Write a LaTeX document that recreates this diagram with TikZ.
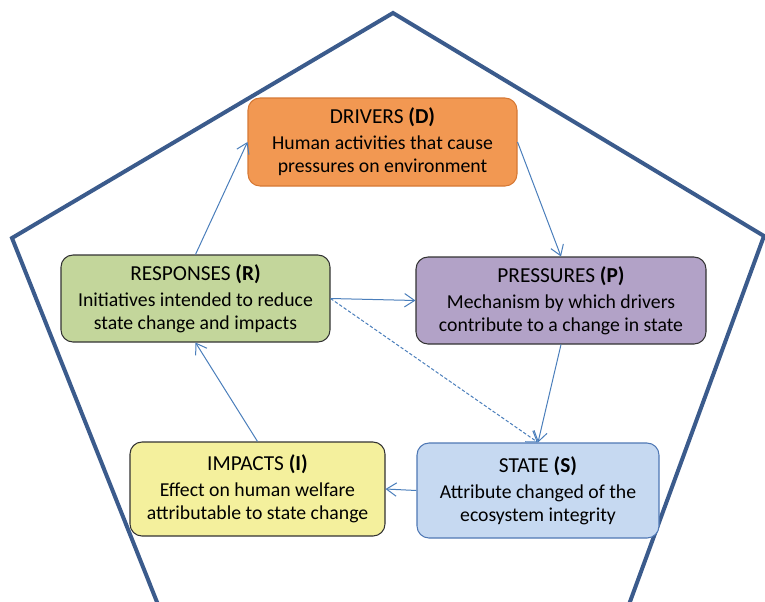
\documentclass[tikz,border=0pt]{standalone}
\usepackage{fontspec}
\setmainfont{Carlito}
\usetikzlibrary{arrows.meta}
\definecolor{penta}{RGB}{59,91,140}
\definecolor{flowblue}{RGB}{74,126,187}
\definecolor{dfill}{RGB}{242,152,82}
\definecolor{ddraw}{RGB}{214,120,52}
\definecolor{rfill}{RGB}{195,214,155}
\definecolor{pfill}{RGB}{178,162,199}
\definecolor{ifill}{RGB}{244,240,157}
\definecolor{sfill}{RGB}{198,217,241}
\definecolor{sdraw}{RGB}{79,120,180}
\newcommand{\boxtitle}[2]{{\fontsize{16}{19}\selectfont #1 \textbf{(#2)}}\\[2.5pt]}

\begin{document}
\begin{tikzpicture}[x=0.75pt, y=-0.75pt,
    dpsir/.style={draw=black!80, line width=0.8pt, rounded corners=9pt, align=center,
      inner sep=2pt, font=\fontsize{14.8}{17.25}\selectfont},
    flow/.style={draw=flowblue, line width=0.75pt, -{Straight Barb[length=7.5pt,width=10pt]}}]
    % frame of the picture
    \clip (0,0) rectangle (765,601);
    % Pentagon round the cycle
    \draw[penta, line width=3pt] (393,13) -- (764,236) -- (594,700) -- (196,700) -- (12,238) -- cycle;
    % Boxes of the cycle
    \node[dpsir, fill=dfill, draw=ddraw, minimum width=201.75pt, minimum height=66pt] (drivers) at (382.5,142)
      {\boxtitle{DRIVERS}{D}Human activities that cause\\pressures on environment};
    \node[dpsir, fill=rfill, minimum width=201.75pt, minimum height=65.25pt] (responses) at (195.5,298.5)
      {\boxtitle{RESPONSES}{R}Initiatives intended to reduce\\state change and impacts};
    \node[dpsir, fill=pfill, minimum width=217.5pt, minimum height=65.25pt] (pressures) at (561,300.5)
      {\boxtitle{PRESSURES}{P}Mechanism by which drivers\\contribute to a change in state};
    \node[dpsir, fill=ifill, minimum width=191.25pt, minimum height=70.5pt] (impacts) at (257.5,489)
      {\boxtitle{IMPACTS}{I}Effect on human welfare\\attributable to state change};
    \node[dpsir, fill=sfill, draw=sdraw, minimum width=181.5pt, minimum height=71.25pt] (state) at (538,490.5)
      {\boxtitle{STATE}{S}Attribute changed of the\\ecosystem integrity};
    % Links
    \draw[flow] (responses.north) -- (drivers.west);
    \draw[flow] (drivers.east) -- (pressures.north);
    \draw[flow] (responses.east) -- (pressures.west);
    \draw[flow, dash pattern=on 2.5pt off 1.5pt] (responses.east) -- (state.north);
    \draw[flow] (pressures.south) -- (state.north);
    \draw[flow] (state.west) -- (impacts.east);
    \draw[flow] (impacts.north) -- (responses.south);
\end{tikzpicture}
\end{document}
